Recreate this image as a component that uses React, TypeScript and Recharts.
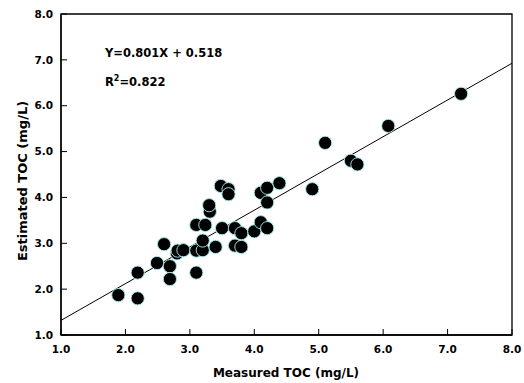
import { ScatterChart, Scatter, XAxis, YAxis, ReferenceLine, ReferenceArea, Customized } from 'recharts';

const measured = [1.89, 2.19, 2.19, 2.49, 2.6, 2.69, 2.69, 2.8, 2.81, 2.9, 3.1, 3.1, 3.2, 3.2, 3.1, 3.24, 3.31, 3.3, 3.4, 3.5, 3.48, 3.6, 3.6, 3.7, 3.7, 3.8, 3.8, 4.0, 4.1, 4.2, 4.1, 4.2, 4.2, 4.39, 4.9, 5.1, 5.5, 5.6, 6.08, 7.21];
const estimated = [1.87, 2.36, 1.8, 2.57, 2.98, 2.5, 2.22, 2.78, 2.84, 2.85, 2.36, 2.84, 2.85, 3.06, 3.4, 3.4, 3.69, 3.83, 2.92, 3.33, 4.25, 4.18, 4.07, 3.33, 2.95, 2.92, 3.22, 3.26, 3.46, 3.33, 4.1, 4.21, 3.89, 4.31, 4.18, 5.19, 4.8, 4.72, 5.56, 6.26];
const ticks = [1, 2, 3, 4, 5, 6, 7, 8];
const slope = 0.801;
const intercept = 0.518;

const points = measured.map((x, i) => ({ x, y: estimated[i] }));
const FONT = '"DejaVu Sans", Arial, sans-serif';

const XTick = (props: any) => {
  const { x, y, payload } = props;
  return (
    <g>
      <line x1={x} x2={x} y1={y} y2={y - 6} stroke="#000" strokeWidth={1} />
      <text x={x} y={y + 18} textAnchor="middle" fontFamily={FONT} fontWeight="bold" fontSize={10.5} fill="#000">
        {payload.value.toFixed(1)}
      </text>
    </g>
  );
};

const YTick = (props: any) => {
  const { x, y, payload } = props;
  return (
    <g>
      <line x1={x} x2={x + 6} y1={y} y2={y} stroke="#000" strokeWidth={1} />
      <text x={x - 8} y={y} dy="0.36em" textAnchor="end" fontFamily={FONT} fontWeight="bold" fontSize={10.5} fill="#000">
        {payload.value.toFixed(1)}
      </text>
    </g>
  );
};

const Dot = (props: any) => (
  <circle cx={props.cx} cy={props.cy} r={6.6} fill="#000" stroke="#a8eef0" strokeWidth={0.9} />
);

const Annotations = () => (
  <g fontFamily={FONT} fontWeight="bold" fill="#000">
    <text x={105} y={57} fontSize={11.5}>Y=0.801X + 0.518</text>
    <text x={105} y={86} fontSize={11.5}>
      R<tspan fontSize={8} dy={-5}>2</tspan><tspan dy={5}>=0.822</tspan>
    </text>
    <text x={286} y={377} textAnchor="middle" fontSize={12}>Measured TOC (mg/L)</text>
    <text x={27} y={181} textAnchor="middle" fontSize={13} transform="rotate(-90, 27, 181)">Estimated TOC (mg/L)</text>
  </g>
);

export default function App() {
  return (
    <div style={{ position: 'absolute', left: 0, top: 0, background: '#fff' }}>
      <ScatterChart width={524} height={383} margin={{ top: 14, right: 12, bottom: 0, left: 0 }}>
        <XAxis type="number" dataKey="x" domain={[1, 8]} ticks={ticks} height={48} tickSize={0} tickMargin={0}
          tick={<XTick />} axisLine={{ stroke: '#000', strokeWidth: 1.3 }} allowDataOverflow />
        <YAxis type="number" dataKey="y" domain={[1, 8]} ticks={ticks} width={61} tickSize={0} tickMargin={0}
          tick={<YTick />} axisLine={{ stroke: '#000', strokeWidth: 1.3 }} allowDataOverflow />
        <ReferenceArea x1={1} x2={8} y1={1} y2={8} fill="none" stroke="#000" strokeWidth={1.3} fillOpacity={0} />
        <ReferenceLine segment={[{ x: 1, y: slope * 1 + intercept }, { x: 8, y: slope * 8 + intercept }]} stroke="#000" strokeWidth={1} />
        <Scatter data={points} shape={<Dot />} isAnimationActive={false} />
        <Customized component={Annotations} />
      </ScatterChart>
    </div>
  );
}
